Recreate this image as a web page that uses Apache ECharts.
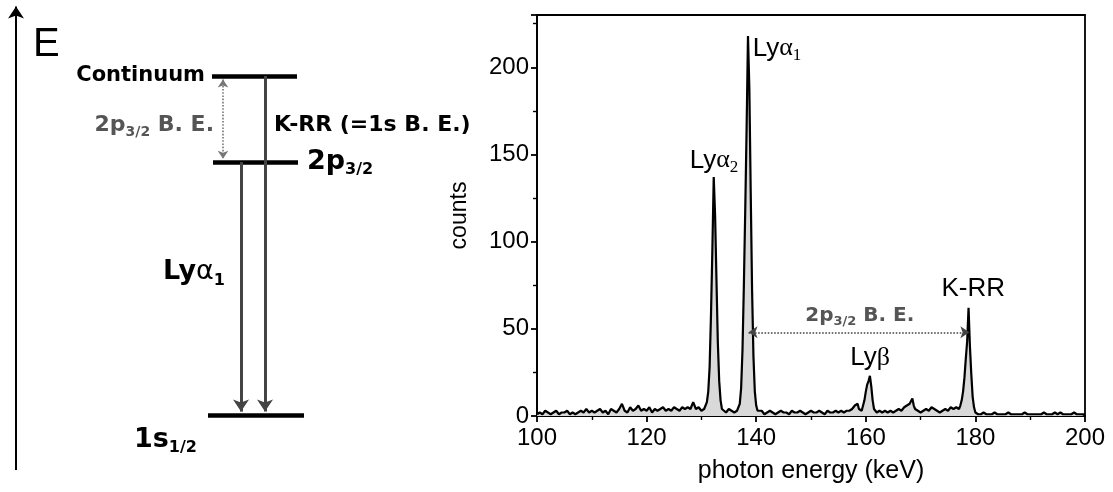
<!DOCTYPE html>
<html><head><meta charset="utf-8">
<script src="https://cdn.jsdelivr.net/npm/echarts@6/dist/echarts.min.js"></script>
<style>html,body{margin:0;padding:0;background:#fff}#c{width:1113px;height:492px}</style>
</head><body><div id="c"></div>
<script>
// ---------- spectrum data (photon energy in keV, counts per channel) ----------
const energyKeV = [
  100,100.5,101,101.5,102,102.5,103,103.5,104,104.5,
  105,105.5,106,106.5,107,107.5,108,108.5,109,109.5,
  110,110.5,111,111.5,112,112.5,113,113.5,114,114.5,
  115,115.5,116,116.5,117,117.5,118,118.5,119,119.5,
  120,120.5,121,121.5,122,122.5,123,123.5,124,124.5,
  125,125.5,126,126.5,127,127.5,128,128.5,129,129.5,
  130,
  130.25,130.5,130.75,131,131.25,131.5,131.75,132,132.25,132.5,132.75,133,133.25,133.5,133.75,134,
  134.5,135,135.5,136,136.5,136.75,
  137,137.25,137.5,137.75,138,138.25,138.5,138.75,139,139.25,139.5,139.75,140,140.25,140.5,
  141,141.5,142,142.5,143,143.5,144,144.5,145,145.5,146,146.5,147,147.5,148,148.5,149,149.5,
  150,150.5,151,151.5,152,152.5,153,153.5,154,154.5,155,155.5,156,156.5,157,157.5,
  158,158.25,158.5,158.75,159,159.25,159.5,159.75,160,160.25,160.5,160.75,161,161.25,161.5,161.75,
  162,162.5,163,163.5,164,164.5,165,165.5,166,166.5,167,167.5,
  168,168.25,168.5,168.75,
  169,169.5,170,170.5,171,171.5,172,172.5,173,173.5,174,174.5,175,175.5,176,176.5,177,
  177.25,177.5,177.75,178,178.25,178.5,178.75,179,179.25,179.5,179.75,180,
  180.5,181,181.5,182,182.5,183,183.5,184,184.5,185,185.5,186,186.5,187,187.5,188,188.5,189,189.5,190,
  190.5,191,191.5,192,192.5,193,193.5,194,194.5,195,195.5,196,196.5,197,197.5,198,198.5,199,199.5,200
];
const counts = [
  1,2,1,3,2,1,2,3,1,2,
  2,3,1,2,1,2,3,2,4,2,
  3,2,3,4,2,3,1,4,3,2,
  4,7,3,2,5,3,4,6,3,4,
  3,5,2,4,3,4,5,3,4,3,
  5,4,3,5,4,5,4,8,4,5,
  3,
  2,4,5,8,14,28,58,95,137,115,78,42,20,9,4,3,
  2,4,3,2,3,4,
  7,16,38,75,118,165,218,188,128,72,34,14,6,3,2,
  3,1,2,3,2,1,2,3,2,2,1,3,2,2,3,2,1,2,
  3,2,2,3,2,1,3,2,2,3,2,3,2,3,3,4,
  6,5,7,4,5,3,6,9,14,18,20,23,17,9,4,3,
  2,3,2,3,2,3,2,3,4,3,5,6,
  7,8,10,6,
  4,3,2,3,4,3,5,4,3,2,3,4,3,5,4,5,4,
  6,9,14,22,33,43,62,40,24,11,5,2,
  1,1,2,1,1,1,2,1,1,1,1,2,1,1,1,1,1,2,1,1,
  1,1,1,1,2,1,1,1,2,1,2,1,1,1,1,2,1,1,1,1
];
const xTicks = [100, 120, 140, 160, 180, 200];
const yTicks = [0, 50, 100, 150, 200];
// peak annotations: [label, energy keV, counts]
const peakNames = ['Lyα2', 'Lyα1', 'Lyβ', 'K-RR'];
const peakLabelAt = [[132.3, 146.5], [143.8, 210.7], [160.8, 33.1], [179.6, 73.2]];
const beArrow = [138.6, 178.9, 48];   // from Lyα1 to K-RR at 48 counts
const beLabelAt = [158.9, 57.7];

// ---------- level diagram (schematic energies, 1s = 0, continuum = 100) ----------
const levelNames = ['Continuum', '2p3/2', '1s1/2'];
const levelEnergy = [100, 74.6, 0];

// ---------- build ----------
const SANS = 'Liberation Sans, Arial, sans-serif';
const WIDE = 'DejaVu Sans, Liberation Sans, sans-serif';
const SERIF = 'Liberation Serif, Times New Roman, serif';
const spectrum = energyKeV.map((e, i) => [e, counts[i]]);

// diagram layout (horizontal placement in diagram units)
const levelX = [[212, 297], [213, 298], [208, 304]];
const lyX = 241, krrX = 265, beX = 223;

const blackAxis = {
  axisLine: { show: true, lineStyle: { color: '#000', width: 1.8 } },
  axisTick: { show: true, length: 6, lineStyle: { color: '#000', width: 1.8 } },
  minorTick: { show: true, splitNumber: 2, length: 4, lineStyle: { color: '#000', width: 1.4 } },
  splitLine: { show: false },
  minorSplitLine: { show: false }
};

const option = {
  animation: false,
  backgroundColor: '#fff',
  grid: [
    { left: 537, right: 28, top: 15, bottom: 76, show: true, borderColor: '#000', borderWidth: 1.8, backgroundColor: 'transparent' },
    { left: 0, width: 500, top: 76, bottom: 77, show: false }
  ],
  xAxis: [
    Object.assign({
      gridIndex: 0, type: 'value', min: xTicks[0], max: xTicks[xTicks.length - 1], interval: 20,
      axisLabel: { fontSize: 24, color: '#000', margin: 10, fontFamily: SANS },
      name: 'photon energy (keV)', nameLocation: 'middle', nameGap: 43,
      nameTextStyle: { fontSize: 25, color: '#000', fontFamily: SANS }
    }, blackAxis),
    { gridIndex: 1, type: 'value', min: 0, max: 500, show: false }
  ],
  yAxis: [
    Object.assign({
      gridIndex: 0, type: 'value', min: yTicks[0], max: 230, interval: 50,
      axisLabel: { fontSize: 24, color: '#000', margin: 8, fontFamily: SANS, showMaxLabel: false,
        formatter: v => (yTicks.indexOf(v) >= 0 ? String(v) : '') },
      name: 'counts', nameLocation: 'middle', nameGap: 66, nameRotate: 90,
      nameTextStyle: { fontSize: 23, color: '#000', fontFamily: SANS }
    }, blackAxis),
    { gridIndex: 1, type: 'value', min: 0, max: 100, show: false }
  ],
  series: [
    {
      type: 'line', xAxisIndex: 0, yAxisIndex: 0, data: spectrum,
      showSymbol: false, symbol: 'none',
      lineStyle: { color: '#000', width: 2.2 },
      areaStyle: { color: '#d9d9d9', opacity: 1 },
      z: 2,
      markLine: {
        silent: true, symbol: ['arrow', 'arrow'], symbolSize: 9,
        lineStyle: { type: 'dotted', color: '#444', width: 1.6 },
        label: { show: false },
        data: [[{ coord: [beArrow[0], beArrow[2]] }, { coord: [beArrow[1], beArrow[2]] }]]
      }
    },
    {
      type: 'scatter', xAxisIndex: 0, yAxisIndex: 0, symbolSize: 0, silent: true, z: 5,
      itemStyle: { opacity: 1 },
      data: peakNames.map((n, i) => {
        let f;
        if (n === 'K-RR') f = '{n|K-RR}';
        else if (n === 'Lyβ') f = '{n|Ly}{g|β}';
        else f = '{n|Ly}{g|α}{s|' + n.slice(3) + '}';
        return { value: peakLabelAt[i], label: { formatter: f } };
      }).concat([{ value: beLabelAt, label: { formatter: '{bg|2p}{bs|3/2}{bg| B. E.}' } }]),
      label: {
        show: true, position: [0, 0], align: 'center', verticalAlign: 'middle', color: '#000',
        rich: {
          n: { fontSize: 26, fontFamily: SANS, color: '#000', lineHeight: 30 },
          g: { fontSize: 26, fontFamily: SERIF, color: '#000', lineHeight: 30 },
          s: { fontSize: 17, fontFamily: SERIF, color: '#000', verticalAlign: 'bottom', lineHeight: 30 },
          bg: { fontSize: 20, fontFamily: WIDE, fontWeight: 'bold', color: '#555', lineHeight: 26 },
          bs: { fontSize: 13, fontFamily: WIDE, fontWeight: 'bold', color: '#555', verticalAlign: 'bottom', lineHeight: 26 }
        }
      }
    },
    // ----- diagram: levels -----
    {
      type: 'lines', coordinateSystem: 'cartesian2d', xAxisIndex: 1, yAxisIndex: 1, clip: false, silent: true,
      symbol: 'none', lineStyle: { color: '#000', width: 4.5, opacity: 1 },
      data: levelEnergy.map((E, i) => ({ coords: [[levelX[i][0], E], [levelX[i][1], E]] }))
    },
    // ----- diagram: transitions (Lyα1, K-RR) -----
    {
      type: 'lines', coordinateSystem: 'cartesian2d', xAxisIndex: 1, yAxisIndex: 1, clip: false, silent: true,
      symbol: ['none', 'arrow'], symbolSize: 12,
      lineStyle: { color: '#444', width: 3, opacity: 1 },
      data: [
        { coords: [[lyX, levelEnergy[1]], [lyX, levelEnergy[2] + 1]] },
        { coords: [[krrX, levelEnergy[0]], [krrX, levelEnergy[2] + 1]] }
      ]
    },
    // ----- diagram: 2p binding energy (dotted double arrow) -----
    {
      type: 'lines', coordinateSystem: 'cartesian2d', xAxisIndex: 1, yAxisIndex: 1, clip: false, silent: true,
      symbol: ['arrow', 'arrow'], symbolSize: 8,
      lineStyle: { color: '#777', width: 1.6, type: 'dotted', opacity: 1 },
      data: [{ coords: [[beX, levelEnergy[0] - 1], [beX, levelEnergy[1] + 1]] }]
    },
    // ----- diagram: energy axis arrow -----
    {
      type: 'lines', coordinateSystem: 'cartesian2d', xAxisIndex: 1, yAxisIndex: 1, clip: false, silent: true,
      symbol: ['none', 'arrow'], symbolSize: 12,
      lineStyle: { color: '#000', width: 2, opacity: 1 },
      data: [{ coords: [[16, -16.2], [16, 120.5]] }]
    },
    // ----- diagram: texts -----
    {
      type: 'scatter', xAxisIndex: 1, yAxisIndex: 1, symbolSize: 0, silent: true, clip: false, z: 5,
      itemStyle: { opacity: 1 },
      data: [
        { value: [205, levelEnergy[0]], label: { align: 'right', formatter: '{b|' + levelNames[0] + '}' } },
        { value: [307, levelEnergy[1]], label: { align: 'left', formatter: '{L|2p}{Ls|3/2}' } },
        { value: [134, -7.4], label: { align: 'left', formatter: '{L|1s}{Ls|1/2}' } },
        { value: [214, 85.5], label: { align: 'right', formatter: '{gb|2p}{gs|3/2}{gb| B. E.}' } },
        { value: [274, 85.5], label: { align: 'left', formatter: '{k|K-RR (=1s B. E.)}' } },
        { value: [225, 42.2], label: { align: 'right', formatter: '{ly|Ly}{la|α}{ls|1}' } },
        { value: [33, 109.1], label: { align: 'left', formatter: '{E|E}' } }
      ],
      label: {
        show: true, position: [0, 0], verticalAlign: 'middle', color: '#000',
        rich: {
          b: { fontSize: 21, fontWeight: 'bold', fontFamily: WIDE, color: '#000' },
          L: { fontSize: 27, fontWeight: 'bold', fontFamily: WIDE, color: '#000', lineHeight: 32 },
          Ls: { fontSize: 16, fontWeight: 'bold', fontFamily: WIDE, color: '#000', verticalAlign: 'bottom', lineHeight: 32 },
          gb: { fontSize: 22, fontWeight: 'bold', fontFamily: WIDE, color: '#555', lineHeight: 28 },
          gs: { fontSize: 14, fontWeight: 'bold', fontFamily: WIDE, color: '#555', verticalAlign: 'bottom', lineHeight: 28 },
          k: { fontSize: 22, fontWeight: 'bold', fontFamily: WIDE, color: '#000' },
          ly: { fontSize: 27, fontWeight: 'bold', fontFamily: WIDE, color: '#000', lineHeight: 34 },
          la: { fontSize: 27, fontFamily: WIDE, color: '#000', lineHeight: 34 },
          ls: { fontSize: 16, fontWeight: 'bold', fontFamily: WIDE, color: '#000', verticalAlign: 'bottom', lineHeight: 34 },
          E: { fontSize: 40, fontFamily: SANS, color: '#000' }
        }
      }
    }
  ]
};
const chart = echarts.init(document.getElementById('c'));
chart.setOption(option);
</script>
</body></html>
